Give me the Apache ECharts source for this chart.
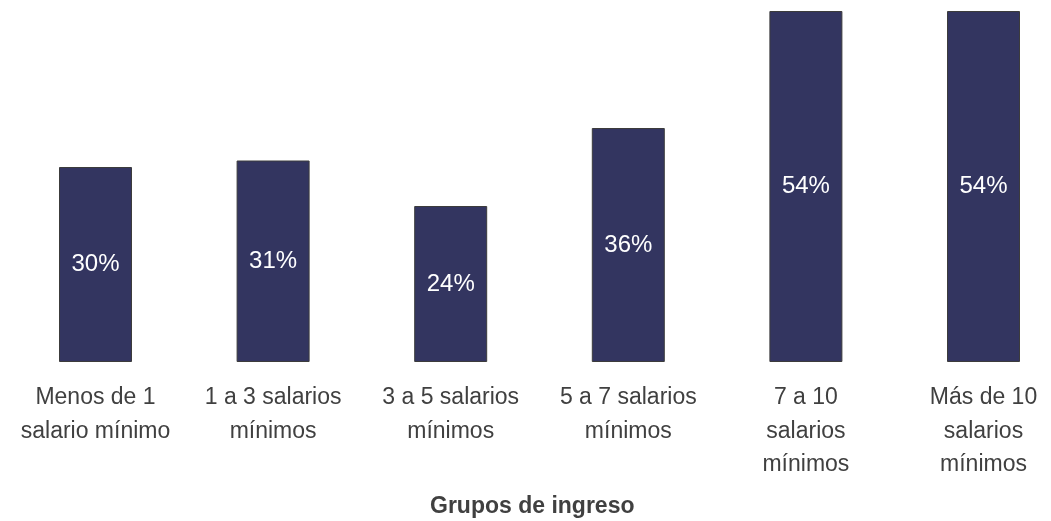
<!DOCTYPE html>
<html>
<head>
<meta charset="utf-8">
<script src="https://cdn.jsdelivr.net/npm/echarts@6/dist/echarts.min.js"></script>
<style>
  html, body { margin: 0; padding: 0; background: #ffffff; }
  #chart { width: 1051px; height: 521px; }
</style>
</head>
<body>
<div id="chart"></div>
<script>
// Income groups and the share for each one (percent)
const categories = [
  'Menos de 1\nsalario mínimo',
  '1 a 3 salarios\nmínimos',
  '3 a 5 salarios\nmínimos',
  '5 a 7 salarios\nmínimos',
  '7 a 10\nsalarios\nmínimos',
  'Más de 10\nsalarios\nmínimos'
];
const values = [30, 31, 24, 36, 54, 54];
const axisTitle = 'Grupos de ingreso';

const FONT = '"Liberation Sans", Arial, Helvetica, sans-serif';
const TEXT = '#404040';

const chart = echarts.init(document.getElementById('chart'));
chart.setOption({
  animation: false,
  backgroundColor: '#ffffff',
  // bars sit on the category ticks, first and last at the grid edges
  grid: { left: 95.5, right: 67.5, top: 11, bottom: 159, containLabel: false },
  xAxis: {
    type: 'category',
    data: categories,
    boundaryGap: false,
    axisLine: { show: false },
    axisTick: { show: false },
    axisLabel: {
      interval: 0,
      margin: 19,
      color: TEXT,
      fontFamily: FONT,
      fontSize: 23,
      lineHeight: 33.5
    }
  },
  yAxis: {
    type: 'value',
    min: 0,
    max: 54,
    show: false,
    splitLine: { show: false }
  },
  series: [{
    type: 'bar',
    data: values,
    barWidth: 73,
    clip: false,
    itemStyle: { color: '#333560', borderColor: '#3c3c3c', borderWidth: 1 },
    label: {
      show: true,
      position: 'inside',
      formatter: '{c}%',
      color: '#ffffff',
      fontFamily: FONT,
      fontSize: 24
    }
  }],
  graphic: [{
    type: 'text',
    left: 430,
    top: 495,
    style: {
      text: axisTitle,
      fill: TEXT,
      font: 'bold 23px ' + FONT
    }
  }]
});
</script>
</body>
</html>
